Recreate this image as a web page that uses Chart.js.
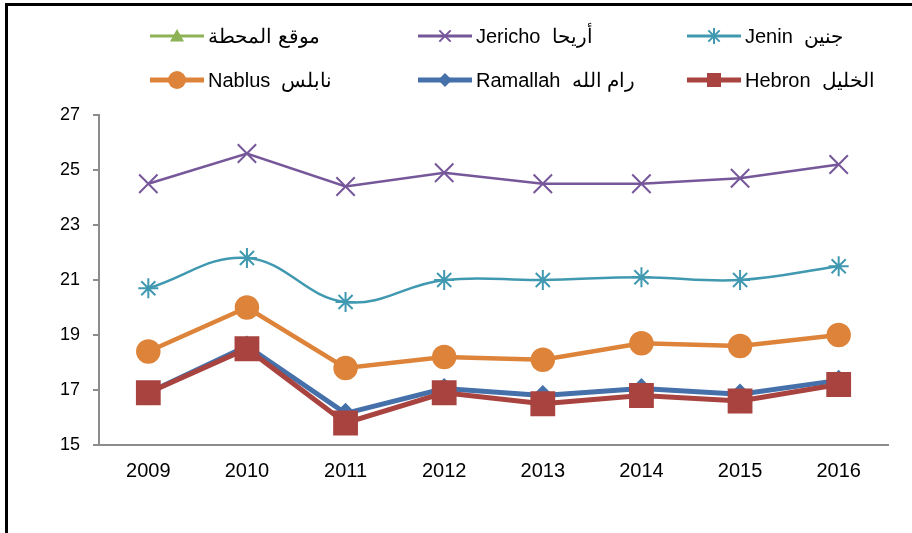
<!DOCTYPE html>
<html>
<head>
<meta charset="utf-8">
<script src="https://cdn.jsdelivr.net/npm/chart.js@4/dist/chart.umd.min.js"></script>
<style>
  html, body { margin: 0; padding: 0; background: #fff; overflow: hidden; }
  #wrap { position: relative; width: 912px; height: 533px; }
  #frame { position: absolute; left: 5px; top: 3px; width: 1200px; height: 1200px;
           border-top: 3px solid #000; border-left: 3px solid #000; pointer-events: none; }
  canvas { position: absolute; left: 0; top: 0; }
</style>
</head>
<body>
<div id="wrap">
  <canvas id="chart" width="912" height="533"></canvas>
  <div id="frame"></div>
</div>
<script>
// ---- data ----
const years    = ['2009', '2010', '2011', '2012', '2013', '2014', '2015', '2016'];
const station  = [];
const jericho  = [24.5, 25.6, 24.4, 24.9, 24.5, 24.5, 24.7, 25.2];
const jenin    = [20.7, 21.8, 20.2, 21.0, 21.0, 21.1, 21.0, 21.5];
const nablus   = [18.4, 20.0, 17.8, 18.2, 18.1, 18.7, 18.6, 19.0];
const ramallah = [16.9, 18.6, 16.15, 17.05, 16.8, 17.05, 16.85, 17.35];
const hebron   = [16.9, 18.5, 15.8, 16.9, 16.5, 16.8, 16.6, 17.2];
const yTicks   = [15, 17, 19, 21, 23, 25, 27];

const FONT = "'Liberation Sans', Arial, sans-serif";

// legend marker shapes (drawn by hand, library legend can't do fixed columns)
function drawMarker(ctx, style, x, y, r, color){
  ctx.save();
  ctx.fillStyle = color;
  ctx.strokeStyle = color;
  ctx.lineWidth = 2;
  ctx.beginPath();
  if (style === 'triangle'){
    ctx.moveTo(x, y - r); ctx.lineTo(x + r, y + r*0.8); ctx.lineTo(x - r, y + r*0.8); ctx.closePath(); ctx.fill();
  } else if (style === 'crossRot'){
    const d = r*0.707;
    ctx.moveTo(x-d, y-d); ctx.lineTo(x+d, y+d); ctx.moveTo(x+d, y-d); ctx.lineTo(x-d, y+d); ctx.stroke();
  } else if (style === 'star'){
    const d = r*0.707;
    ctx.moveTo(x, y-r); ctx.lineTo(x, y+r); ctx.moveTo(x-r, y); ctx.lineTo(x+r, y);
    ctx.moveTo(x-d, y-d); ctx.lineTo(x+d, y+d); ctx.moveTo(x+d, y-d); ctx.lineTo(x-d, y+d); ctx.stroke();
  } else if (style === 'circle'){
    ctx.arc(x, y, r, 0, Math.PI*2); ctx.fill();
  } else if (style === 'rectRot'){
    ctx.moveTo(x, y-r); ctx.lineTo(x+r, y); ctx.lineTo(x, y+r); ctx.lineTo(x-r, y); ctx.closePath(); ctx.fill();
  } else if (style === 'rect'){
    ctx.rect(x - r, y - r, 2*r, 2*r); ctx.fill();
  }
  ctx.restore();
}

const legendGrid = {
  id: 'legendGrid',
  afterDraw(chart){
    const ctx = chart.ctx;
    const cols = [150, 418, 687];
    const rows = [36, 80];
    const sizes = [7, 8, 8, 9, 7, 7];
    chart.data.datasets.forEach((ds, i) => {
      const x = cols[i % 3], y = rows[Math.floor(i / 3)];
      ctx.save();
      ctx.strokeStyle = ds.borderColor;
      ctx.lineWidth = ds.legendLine;
      ctx.beginPath(); ctx.moveTo(x, y); ctx.lineTo(x + 54, y); ctx.stroke();
      drawMarker(ctx, ds.pointStyle, x + 27, y, sizes[i], ds.borderColor);
      ctx.fillStyle = '#000';
      ctx.font = '20px ' + FONT;
      ctx.textBaseline = 'middle';
      ctx.fillText(ds.label, x + 58, y + 1);
      ctx.restore();
    });
  }
};

new Chart(document.getElementById('chart'), {
  type: 'line',
  data: {
    labels: years,
    datasets: [
      { label: 'موقع المحطة', data: station, borderColor: '#8DB255', backgroundColor: '#8DB255',
        pointStyle: 'triangle', borderWidth: 2.5, legendLine: 3, order: 5 },
      { label: 'Jericho  أريحا', data: jericho, borderColor: '#75579A', backgroundColor: '#75579A',
        pointStyle: 'crossRot', pointRadius: 13, pointBorderWidth: 2, borderWidth: 2.5, legendLine: 3, order: 4 },
      { label: 'Jenin  جنين', data: jenin, borderColor: '#4099B0', backgroundColor: '#4099B0',
        pointStyle: 'star', pointRadius: 10, pointBorderWidth: 2, borderWidth: 2.5, tension: 0.4, legendLine: 3, order: 3 },
      { label: 'Nablus  نابلس', data: nablus, borderColor: '#DD843A', backgroundColor: '#DD843A',
        pointStyle: 'circle', pointRadius: 10, borderWidth: 4.5, legendLine: 5, order: 2 },
      { label: 'Ramallah  رام الله', data: ramallah, borderColor: '#4570AA', backgroundColor: '#4570AA',
        pointStyle: 'rectRot', pointRadius: 7, borderWidth: 5, legendLine: 5, order: 1 },
      { label: 'Hebron  الخليل', data: hebron, borderColor: '#A8433F', backgroundColor: '#A8433F',
        pointStyle: 'rect', pointRadius: 14, borderWidth: 5, legendLine: 5, order: 0 }
    ]
  },
  options: {
    responsive: false,
    animation: false,
    layout: { padding: { left: 0, right: 24, top: 115, bottom: 0 } },
    plugins: { legend: { display: false }, tooltip: { enabled: false } },
    scales: {
      x: {
        offset: true,
        afterFit: (s) => { s.height = 88; },
        grid: { display: false, drawTicks: false },
        border: { display: true, color: '#8C8C8C', width: 2 },
        ticks: { color: '#000', font: { family: FONT, size: 20 }, padding: 14, maxRotation: 0 }
      },
      y: {
        min: 15, max: 27,
        afterFit: (s) => { s.width = 99; },
        afterBuildTicks: (s) => { s.ticks = yTicks.map(v => ({ value: v })); },
        grid: { drawOnChartArea: false, drawTicks: true, tickLength: 6, color: '#8C8C8C', lineWidth: 2 },
        border: { display: true, color: '#8C8C8C', width: 2 },
        ticks: { color: '#000', font: { family: FONT, size: 18 }, padding: 13 }
      }
    }
  },
  plugins: [legendGrid]
});
</script>
</body>
</html>
